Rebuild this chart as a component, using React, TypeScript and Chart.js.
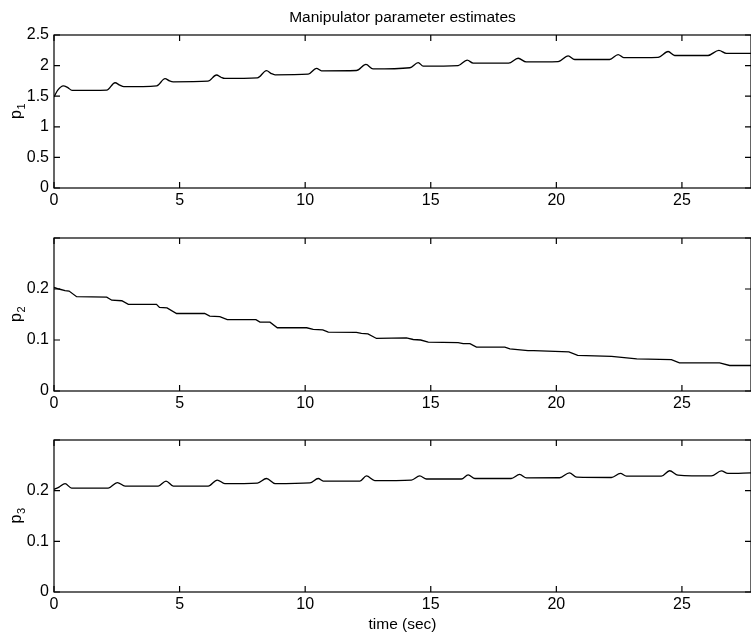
import React, { useEffect, useRef } from 'react';
import { Chart, registerables } from 'chart.js';

Chart.register(...registerables);

// ---------- data ----------
const titleText = 'Manipulator parameter estimates';
const xLabelText = 'time (sec)';
const xMin = 0;
const xMax = 27.75;
const xStep = 5;

const p1Time = [0, 0.15, 0.37, 0.55, 0.72, 2.1, 2.43, 2.62, 2.78, 4.09, 4.42, 4.6, 4.75, 6.13, 6.47, 6.65, 6.8, 8.1, 8.46, 8.65, 8.8, 10.12, 10.45, 10.65, 12.04, 12.42, 12.7, 14.17, 14.5, 14.7, 16.09, 16.45, 16.69, 18.1, 18.48, 18.8, 20.07, 20.47, 20.73, 22.12, 22.46, 22.68, 24.05, 24.45, 24.71, 26.04, 26.47, 26.77, 27.75];
const p1Values = [1.49, 1.6, 1.67, 1.64, 1.595, 1.6, 1.72, 1.68, 1.655, 1.67, 1.786, 1.75, 1.735, 1.745, 1.846, 1.81, 1.79, 1.8, 1.917, 1.87, 1.85, 1.86, 1.956, 1.915, 1.92, 2.02, 1.945, 1.965, 2.05, 1.99, 2.0, 2.09, 2.04, 2.04, 2.12, 2.06, 2.065, 2.16, 2.1, 2.1, 2.18, 2.13, 2.135, 2.23, 2.165, 2.165, 2.25, 2.2, 2.2];

const p2Time = [0, 0.2, 0.44, 0.6, 0.9, 2.1, 2.3, 2.7, 2.96, 4.08, 4.2, 4.5, 4.88, 6.0, 6.2, 6.6, 6.9, 8.04, 8.2, 8.6, 8.89, 10.06, 10.32, 10.7, 10.92, 12.04, 12.24, 12.5, 12.84, 14.03, 14.3, 14.6, 14.9, 16.09, 16.29, 16.56, 16.82, 17.95, 18.15, 18.87, 19.1, 20.5, 20.85, 22.2, 22.8, 23.2, 24.58, 24.9, 26.5, 26.9, 27.75];
const p2Values = [0.203, 0.2, 0.197, 0.196, 0.185, 0.184, 0.178, 0.177, 0.17, 0.17, 0.164, 0.163, 0.152, 0.152, 0.147, 0.146, 0.14, 0.14, 0.135, 0.135, 0.124, 0.124, 0.121, 0.12, 0.1155, 0.115, 0.113, 0.112, 0.103, 0.104, 0.101, 0.1, 0.096, 0.095, 0.093, 0.093, 0.086, 0.086, 0.0825, 0.079, 0.079, 0.0766, 0.07, 0.068, 0.065, 0.063, 0.0614, 0.055, 0.055, 0.05, 0.05];

const p3Time = [0, 0.2, 0.44, 0.7, 2.16, 2.52, 2.83, 4.15, 4.46, 4.75, 6.14, 6.5, 6.8, 8.1, 8.46, 8.8, 10.19, 10.52, 10.72, 12.18, 12.44, 12.77, 14.23, 14.56, 14.83, 16.22, 16.49, 16.76, 18.2, 18.54, 18.81, 20.13, 20.52, 20.81, 22.19, 22.55, 22.79, 24.18, 24.51, 24.84, 26.17, 26.57, 26.83, 27.75];
const p3Values = [0.2026, 0.207, 0.214, 0.205, 0.205, 0.216, 0.209, 0.209, 0.219, 0.209, 0.209, 0.221, 0.214, 0.215, 0.224, 0.214, 0.2155, 0.224, 0.219, 0.219, 0.229, 0.22, 0.221, 0.229, 0.223, 0.223, 0.231, 0.224, 0.224, 0.232, 0.2253, 0.2255, 0.235, 0.2267, 0.226, 0.234, 0.2287, 0.2287, 0.2393, 0.2307, 0.229, 0.239, 0.234, 0.235];

const p1Ticks = { min: 0, max: 2.5, step: 0.5 };
const p23Ticks = { min: 0, max: 0.3, step: 0.1, labelLimit: 0.25 };

// ---------- styling ----------
const FONT = '"Liberation Sans", Arial, Helvetica, sans-serif';
const W = 751;

const boxPlugin = {
  id: 'matlabBox',
  afterDraw(chart: any) {
    const { ctx, chartArea: a, scales } = chart;
    const tl = 6;
    ctx.save();
    ctx.strokeStyle = '#000';
    ctx.lineWidth = 1.2;
    ctx.strokeRect(a.left, a.top, a.right - a.left, a.bottom - a.top);
    ctx.beginPath();
    for (const t of scales.x.ticks) {
      const px = scales.x.getPixelForValue(t.value);
      ctx.moveTo(px, a.bottom);
      ctx.lineTo(px, a.bottom - tl);
      ctx.moveTo(px, a.top);
      ctx.lineTo(px, a.top + tl);
    }
    for (const t of scales.y.ticks) {
      const py = scales.y.getPixelForValue(t.value);
      ctx.moveTo(a.left, py);
      ctx.lineTo(a.left + tl, py);
      ctx.moveTo(a.right, py);
      ctx.lineTo(a.right - tl, py);
    }
    ctx.stroke();
    ctx.restore();
  },
};

const yLabelPlugin = {
  id: 'yLabel',
  afterDraw(chart: any, _args: any, opts: any) {
    if (!opts || !opts.sub) return;
    const { ctx, chartArea } = chart;
    const cy = (chartArea.top + chartArea.bottom) / 2;
    ctx.save();
    ctx.translate(opts.x, cy);
    ctx.rotate(-Math.PI / 2);
    ctx.fillStyle = '#000';
    ctx.textAlign = 'left';
    ctx.textBaseline = 'alphabetic';
    ctx.font = `16px ${FONT}`;
    const pw = ctx.measureText('p').width;
    ctx.font = `11px ${FONT}`;
    const sw = ctx.measureText(opts.sub).width;
    const start = -(pw + sw) / 2;
    ctx.font = `16px ${FONT}`;
    ctx.fillText('p', start, 0);
    ctx.font = `11px ${FONT}`;
    ctx.fillText(opts.sub, start + pw + 0.5, 4);
    ctx.restore();
  },
};

type PanelProps = {
  top: number;
  height: number;
  areaTop: number;
  areaBottom: number;
  times: number[];
  values: number[];
  yTicks: { min: number; max: number; step: number; labelLimit?: number };
  sub: string;
  smooth: boolean;
  title?: string;
  xTitle?: string;
};

function Panel(props: PanelProps) {
  const ref = useRef<HTMLCanvasElement | null>(null);
  useEffect(() => {
    if (!ref.current) return;
    const { height, areaTop, areaBottom, times, values, yTicks, sub, smooth, title, xTitle } = props;
    const axisHeight = height - areaBottom;
    const titlePadTop = areaTop > 30 ? 8.7 : 0;
    const chart = new Chart(ref.current, {
      type: 'line',
      data: {
        datasets: [
          {
            data: times.map((t, i) => ({ x: t, y: values[i] })),
            borderColor: '#000',
            borderWidth: 1.3,
            pointRadius: 0,
            fill: false,
            tension: smooth ? 0.4 : 0,
            cubicInterpolationMode: smooth ? 'monotone' : 'default',
          } as any,
        ],
      },
      options: {
        animation: false,
        responsive: false,
        devicePixelRatio: 1,
        events: [],
        layout: { padding: { top: title ? 0 : areaTop, left: 0, right: 0, bottom: 0 } },
        plugins: {
          legend: { display: false },
          tooltip: { enabled: false },
          title: title
            ? {
                display: true,
                text: title,
                fullSize: false,
                color: '#000',
                font: { family: FONT, size: 15.5, weight: 'normal' },
                padding: { top: titlePadTop, bottom: areaTop - titlePadTop - 15.5 * 1.2 },
              }
            : { display: false },
          yLabel: { sub, x: 21 },
        } as any,
        scales: {
          x: {
            type: 'linear',
            min: xMin,
            max: xMax,
            grid: { display: false, drawTicks: false },
            border: { display: false },
            ticks: {
              stepSize: xStep,
              includeBounds: false,
              color: '#000',
              padding: 3,
              maxRotation: 0,
              font: { family: FONT, size: 16 },
            },
            title: xTitle
              ? {
                  display: true,
                  text: xTitle,
                  color: '#000',
                  font: { family: FONT, size: 15.5 },
                  padding: { top: 0, bottom: 1.7 },
                }
              : { display: false },
            afterFit: (scale: any) => {
              scale.height = axisHeight;
            },
          },
          y: {
            type: 'linear',
            min: yTicks.min,
            max: yTicks.max,
            grid: { display: false, drawTicks: false },
            border: { display: false },
            ticks: {
              stepSize: yTicks.step,
              color: '#000',
              padding: 5,
              font: { family: FONT, size: 16 },
              callback: (v: any) => {
                const n = Number(v);
                if (yTicks.labelLimit !== undefined && n > yTicks.labelLimit) return '';
                return String(Math.round(n * 10) / 10);
              },
            },
            afterFit: (scale: any) => {
              scale.width = 54;
            },
          },
        },
      } as any,
      plugins: [boxPlugin, yLabelPlugin],
    });
    return () => chart.destroy();
  }, []);
  return (
    <canvas
      ref={ref}
      width={W}
      height={props.height}
      style={{ position: 'absolute', left: 0, top: props.top, width: W, height: props.height }}
    />
  );
}

export default function App() {
  return (
    <div style={{ position: 'fixed', left: 0, top: 0, width: W, height: 636, background: '#fff', overflow: 'hidden' }}>
      <Panel top={0} height={215} areaTop={35} areaBottom={188} times={p1Time} values={p1Values} yTicks={p1Ticks} sub="1" smooth={true} title={titleText} />
      <Panel top={215} height={205} areaTop={23} areaBottom={176} times={p2Time} values={p2Values} yTicks={p23Ticks} sub="2" smooth={false} />
      <Panel top={420} height={216} areaTop={20} areaBottom={172} times={p3Time} values={p3Values} yTicks={p23Ticks} sub="3" smooth={true} xTitle={xLabelText} />
    </div>
  );
}
